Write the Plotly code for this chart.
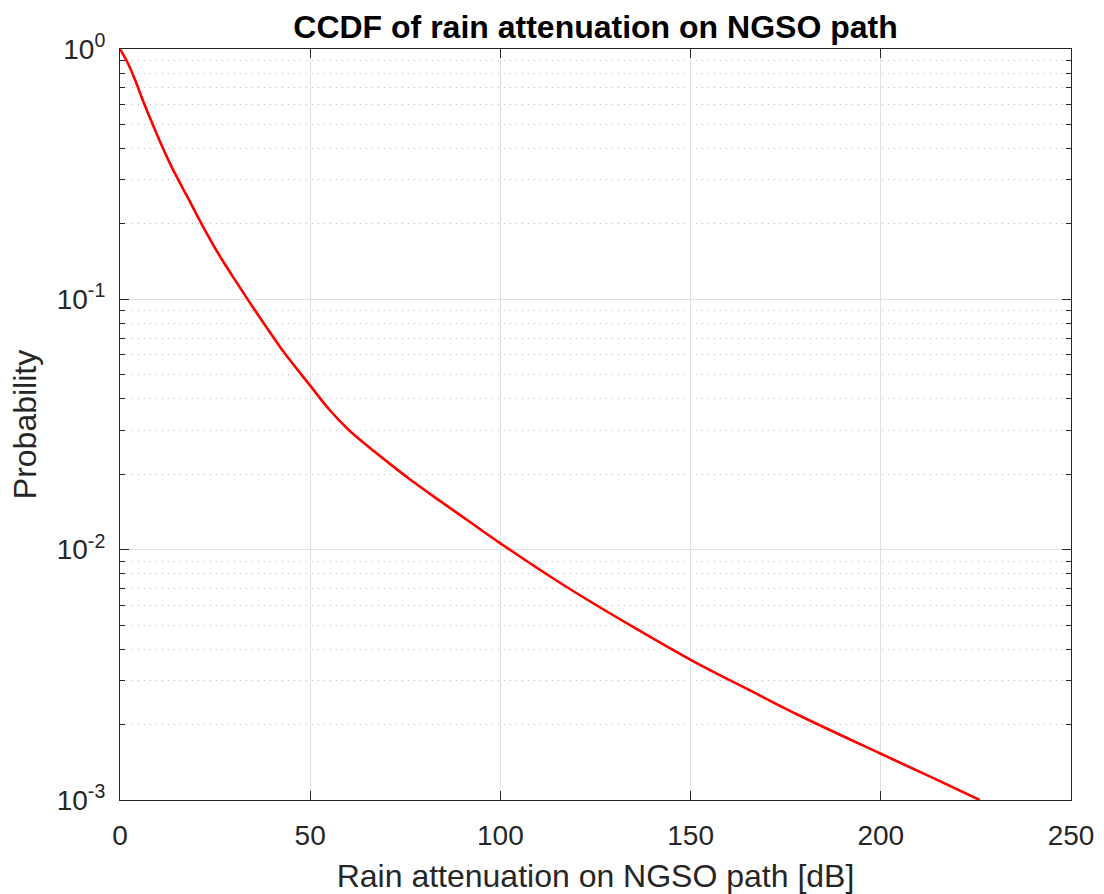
import plotly.graph_objects as go

# CCDF samples: rain attenuation [dB] vs exceedance probability
attenuation_db = [0, 2, 4, 6, 8, 10, 12, 14, 18, 22, 26, 30, 34, 38, 43, 50, 55,
                  60, 65, 70, 76, 84, 92, 100, 117, 135, 150, 166, 179, 200, 212, 226]
probability = [1.0, 0.881, 0.750, 0.624, 0.525, 0.445, 0.380, 0.328, 0.252,
               0.193, 0.151, 0.121, 0.0977, 0.0794, 0.0617, 0.0452, 0.0363,
               0.0302, 0.0260, 0.0226, 0.0192, 0.0157, 0.0129, 0.0106, 0.00716,
               0.00490, 0.00363, 0.00272, 0.00216, 0.00153, 0.00126, 0.00100]

x_ticks = [0, 50, 100, 150, 200, 250]
y_ticks = [1, 0.1, 0.01, 0.001]
y_tick_text = ["10<sup>0</sup>", "10<sup>-1</sup>", "10<sup>-2</sup>", "10<sup>-3</sup>"]
y_minor = [m * 10 ** e for e in (-3, -2, -1) for m in range(2, 10)]

axis_color = "#262626"
font_family = "Liberation Sans, Arial, sans-serif"

fig = go.Figure()
fig.add_trace(go.Scatter(
    x=attenuation_db, y=probability, mode="lines",
    line=dict(color="#ff0000", width=2.6, shape="spline", smoothing=1.0),
    showlegend=False,
))

fig.update_layout(
    template="none",
    width=1104, height=894,
    margin=dict(l=120, r=33, t=49, b=94),
    paper_bgcolor="white", plot_bgcolor="white",
    font=dict(family=font_family, color=axis_color, size=28),
    title=dict(
        text="<b>CCDF of rain attenuation on NGSO path</b>",
        x=0.5394, xanchor="center", y=0.970, yanchor="middle",
        font=dict(family=font_family, size=32, color="black"),
    ),
)

fig.update_xaxes(
    range=[0, 250], tickvals=x_ticks, ticktext=[str(v) for v in x_ticks],
    ticks="inside", ticklen=9, tickwidth=1.2, tickcolor=axis_color,
    showline=True, linecolor=axis_color, linewidth=1.2, mirror="ticks",
    showgrid=True, gridcolor="#e0e0e0", gridwidth=1,
    zeroline=False, ticklabelstandoff=10, automargin=False,
    tickfont=dict(size=28, color=axis_color),
    title=dict(text="Rain attenuation on NGSO path [dB]", standoff=14,
               font=dict(size=32, color=axis_color)),
)

fig.update_yaxes(
    type="log", range=[-3, 0], tickvals=y_ticks, ticktext=y_tick_text,
    ticks="inside", ticklen=9, tickwidth=1.2, tickcolor=axis_color,
    showline=True, linecolor=axis_color, linewidth=1.2, mirror="ticks",
    showgrid=True, gridcolor="#e0e0e0", gridwidth=1,
    zeroline=False, ticklabelstandoff=8, automargin=False,
    tickfont=dict(size=28, color=axis_color),
    minor=dict(
        tickvals=y_minor,
        ticks="inside", ticklen=5, tickcolor=axis_color, tickwidth=1.2,
        showgrid=True, gridcolor="#b8b8b8", griddash="1px,5px", gridwidth=1,
    ),
    title=dict(text="Probability", standoff=10,
               font=dict(size=32, color=axis_color)),
)

fig.write_html("out.html")
